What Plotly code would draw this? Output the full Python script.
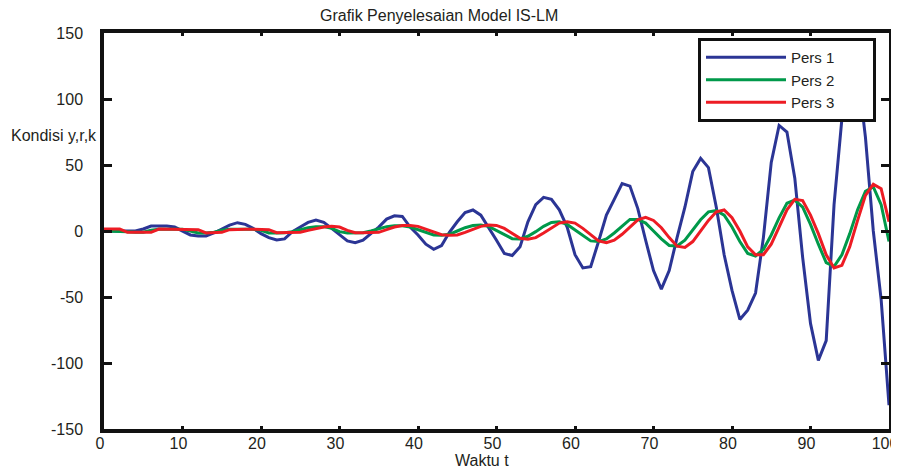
import plotly.graph_objects as go

# waktu t = 0..100
t = list(range(0, 101))

pers1 = [
    0, 0, 0, 0, 0, 1.5, 3.8, 3.8, 3.8, 3, 0,
    -3, -3.8, -3.8, -1.5, 1.5, 4.5, 6.3, 5, 2, -2,
    -5, -6.8, -6, -0.5, 3, 6.5, 8.3, 6.5, 2, -3,
    -7.5, -8.8, -7, -2, 3, 9, 11.5, 11, 3, -3,
    -10, -13.9, -11, -1, 7, 14, 15.9, 12, 3, -7,
    -17, -18.6, -12, 7, 20, 25.5, 24, 16, 3, -18,
    -28, -27, -8, 12, 24, 36, 34, 17, -7, -30,
    -44, -30, -5, 18, 45, 55, 48, 18, -18, -45,
    -67, -60, -47, -5, 52, 80, 75, 40, -20, -70,
    -98, -83, 20, 85, 120, 122, 71, 0, -52, -132,
]

pers2 = [
    0, 0, 0, -0.5, -1, -1, 0.5, 1.3, 1.3, 1.3, 1.3,
    0, -1.5, -1.5, -1, 0.5, 1.3, 1.3, 1.3, 1.3, 0.5,
    -1.5, -1.5, -1.3, -0.5, 1, 2.5, 3.3, 3.3, 2, -0.5,
    -1.5, -1.5, -1.3, 0, 1.5, 3.3, 4, 4, 3, 1,
    -1.5, -3, -3.3, -2.5, 0, 2.5, 4.2, 4.5, 3.5, 0.5,
    -3, -5.8, -6, -4, -0.5, 3.5, 6.5, 7, 5, 1,
    -3.5, -7.5, -8, -6, -1.5, 4, 8.8, 8.8, 6, 0,
    -6, -11, -11.3, -7, 1, 8.5, 14.5, 15.4, 12, 3,
    -8, -17, -18.9, -14, -3, 10, 21, 23.4, 18, 5,
    -10, -24, -27, -18, -2, 16, 30, 33.5, 20, -8,
]

pers3 = [
    1.5, 1.5, 1.5, -1, -1, -1, -1, 1.5, 1.5, 1.5, 1.5,
    1.5, 1, -1.5, -1.5, -1, 1, 1.3, 1.3, 1.3, 1.3,
    1, -1.3, -1.3, -1.3, -1, 0.5, 2, 3, 3.5, 3,
    0.5, -1.3, -1.3, -1.3, -1, 1, 3, 4.2, 4.2, 3.5,
    1.5, -1, -2.8, -3.2, -3, -1, 1.5, 3.5, 4.5, 4.2,
    2, -2, -5.5, -6.3, -5, -1.5, 2.5, 6, 7, 6,
    2, -3, -7.5, -8.8, -7, -2.5, 3, 8.5, 10.3, 8,
    2.5, -5, -11.5, -12.5, -8, 0, 8, 14.5, 15.9, 10,
    0, -12, -18, -18, -10, 3, 16, 24, 23, 12,
    -2, -18, -28, -26, -12, 8, 27, 35.5, 32, 7,
]

y_ticks = [-150, -100, -50, 0, 50, 100, 150]
y_ticktext = ["-150", "-100", "-50", "0", "50", "100", "150"]
x_ticks = [0, 10, 20, 30, 40, 50, 60, 70, 80, 90, 100]

pad = "\u00a0" * 8  # widen legend box like the original
fig = go.Figure()
fig.add_trace(go.Scatter(x=t, y=pers1, mode="lines", name="Pers 1" + pad,
                         line=dict(color="#2b3595", width=3)))
fig.add_trace(go.Scatter(x=t, y=pers2, mode="lines", name="Pers 2" + pad,
                         line=dict(color="#00994a", width=3)))
fig.add_trace(go.Scatter(x=t, y=pers3, mode="lines", name="Pers 3" + pad,
                         line=dict(color="#ed1c24", width=3)))

# page body has 8px margin -> work in shifted coordinates
OFF = 8
W, H = 899, 469 - OFF
L, R, T, B = 104 - OFF, 18, 33 - OFF, 40
pw, ph = W - L - R, H - T - B


def px_x(x):
    return (x - OFF - L) / pw


def px_y(y):
    return (H - B - (y - OFF)) / ph


txt = "#231f20"
font = "Liberation Sans, Arial, sans-serif"

fig.update_layout(
    width=W, height=H,
    margin=dict(l=L, r=R, t=T, b=B, autoexpand=False),
    paper_bgcolor="white", plot_bgcolor="white",
    font=dict(family=font, size=16, color=txt),
    showlegend=True,
    legend=dict(
        x=px_x(698), y=px_y(38), xanchor="left", yanchor="top",
        bgcolor="white", bordercolor="#111111", borderwidth=3,
        font=dict(size=15, color=txt), itemwidth=80,
        tracegroupgap=0,
    ),
    xaxis=dict(
        range=[0, 100], tickvals=x_ticks,
        showgrid=False, zeroline=False,
        showline=True, linewidth=3.5, linecolor="#111111", mirror="ticks",
        ticks="inside", ticklen=3, tickwidth=3, tickcolor="#111111",
        tickfont=dict(size=16, color=txt), ticklabelstandoff=-3,
        ticklabelshift=-4, ticklabeloverflow="allow",
    ),
    yaxis=dict(
        range=[-150, 150], tickvals=y_ticks, ticktext=y_ticktext,
        showgrid=False, zeroline=False,
        showline=True, linewidth=3.5, linecolor="#111111", mirror="ticks",
        ticks="inside", ticklen=8, tickwidth=3, tickcolor="#111111",
        tickfont=dict(size=16, color=txt), ticklabelstandoff=14,
    ),
    annotations=[
        dict(text="Grafik Penyelesaian Model IS-LM", xref="paper", yref="paper",
             x=px_x(439), y=px_y(15), xanchor="center", yanchor="middle",
             showarrow=False, font=dict(size=16, color=txt)),
        dict(text="Kondisi y,r,k", xref="paper", yref="paper",
             x=px_x(9), y=px_y(135), xanchor="left", yanchor="middle",
             showarrow=False, font=dict(size=16, color=txt)),
        dict(text="Waktu t", xref="paper", yref="paper",
             x=px_x(482), y=px_y(460), xanchor="center", yanchor="middle",
             showarrow=False, font=dict(size=16, color=txt)),
    ],
)

fig.write_html("out.html")
